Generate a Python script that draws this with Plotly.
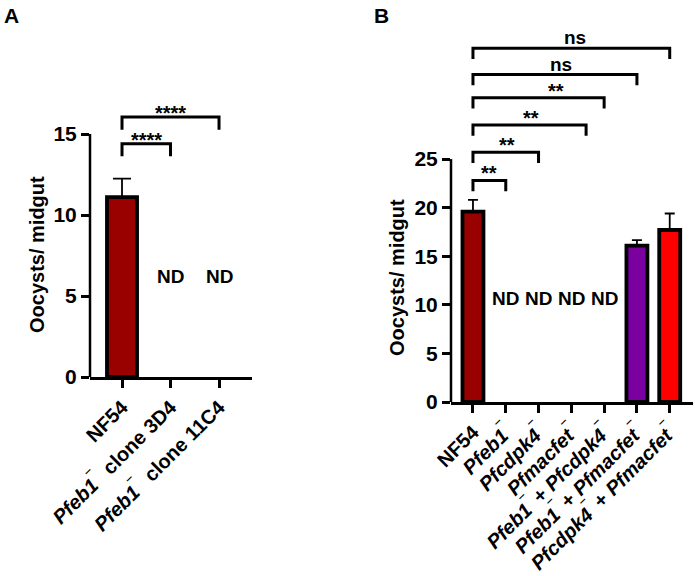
import plotly.graph_objects as go

# ---------------- data ----------------
a_categories = ["NF54", "<i>Pfeb1</i><sup>‾</sup>  clone 3D4", "<i>Pfeb1</i><sup>‾</sup>  clone 11C4"]
a_values = [11.1, 0, 0]
a_errors = [1.15, 0, 0]
a_colors = ["#990000", "#990000", "#990000"]
a_nd = [1, 2]
a_nd_y = 6.2
a_brackets_end = [1, 2]
a_brackets_y = [14.4, 16.05]
a_brackets_label = ["****", "****"]
a_label_x = [0.5, 1.0]

b_categories = [
    "NF54",
    "<i>Pfeb1</i><sup>‾</sup>",
    "<i>Pfcdpk4</i><sup>‾</sup>",
    "<i>Pfmacfet</i><sup>‾</sup>",
    "<i>Pfeb1</i><sup>‾</sup> + <i>Pfcdpk4</i><sup>‾</sup>",
    "<i>Pfeb1</i><sup>‾</sup> + <i>Pfmacfet</i><sup>‾</sup>",
    "<i>Pfcdpk4</i><sup>‾</sup> + <i>Pfmacfet</i><sup>‾</sup>",
]
b_values = [19.6, 0, 0, 0, 0, 16.1, 17.7]
b_errors = [1.2, 0, 0, 0, 0, 0.55, 1.7]
b_colors = ["#990000", "#990000", "#990000", "#990000", "#990000", "#7A00A0", "#FF0000"]
b_nd = [1, 2, 3, 4]
b_nd_y = 10.7
b_brackets_end = [1, 2, 3.45, 4, 5, 6]
b_brackets_y = [22.8, 25.7, 28.5, 31.3, 33.7, 36.4]
b_brackets_label = ["**", "**", "**", "**", "ns", "ns"]
b_label_x = [0.49, 1.04, 1.77, 2.53, 2.68, 3.11]

FONT = "Liberation Sans, Arial, sans-serif"

def bold(size):
    return dict(family=FONT, size=size, color="black", weight="bold")

def err(vals):
    return [e if e > 0 else None for e in vals]

fig = go.Figure()

fig.add_trace(go.Bar(
    x=list(range(len(a_categories))), y=[v if v > 0 else None for v in a_values], width=0.62,
    marker=dict(color=a_colors, line=dict(color="black", width=3.8)),
    error_y=dict(type="data", array=err(a_errors), arrayminus=[0]*3, symmetric=False,
                 color="black", thickness=1.8, width=9),
    xaxis="x", yaxis="y", showlegend=False, hoverinfo="skip"))

fig.add_trace(go.Bar(
    x=list(range(len(b_categories))), y=[v if v > 0 else None for v in b_values], width=0.64,
    marker=dict(color=b_colors, line=dict(color="black", width=3.8)),
    error_y=dict(type="data", array=err(b_errors), arrayminus=[0]*7, symmetric=False,
                 color="black", thickness=1.8, width=5),
    xaxis="x2", yaxis="y2", showlegend=False, hoverinfo="skip"))

common_x = dict(tickangle=-45, showline=True, linecolor="black", linewidth=2.5,
                ticks="outside", ticklen=8, tickwidth=2.5, tickcolor="black",
                tickfont=bold(20), showgrid=False, zeroline=False, automargin=False)
common_y = dict(showline=False, ticks="outside", ticklen=8, tickwidth=2.5, tickcolor="black",
                tickfont=bold(21), showgrid=False, zeroline=False, automargin=False)

fig.update_layout(
    width=695, height=576,
    margin=dict(l=0, r=0, t=0, b=0, autoexpand=False),
    plot_bgcolor="white", paper_bgcolor="white",
    xaxis=dict(domain=[90/695, 252/695], range=[-0.66, 2.68],
               tickvals=list(range(3)), ticktext=a_categories, **common_x),
    yaxis=dict(domain=[(576-377)/576, (576-100)/576], range=[0, 17.1],
               tickvals=[0, 5, 10, 15], **common_y),
    xaxis2=dict(domain=[451/695, 693/695], range=[-0.67, 6.71],
                tickvals=list(range(7)), ticktext=b_categories, anchor="y2", **common_x),
    yaxis2=dict(domain=[(576-402)/576, (576-25)/576], range=[0, 38.8],
                tickvals=[0, 5, 10, 15, 20, 25], anchor="x2", **common_y),
)

shapes = []
annotations = []

shapes.append(dict(type="line", xref="x domain", yref="y", x0=0, x1=0, y0=0, y1=15,
                   line=dict(color="black", width=2.5)))
shapes.append(dict(type="line", xref="x2 domain", yref="y2", x0=0, x1=0, y0=0, y1=25,
                   line=dict(color="black", width=2.5)))

def add_brackets(xr, yr, ends, ys, labels, lx, leg, star_shift):
    for e, yv, lab, x in zip(ends, ys, labels, lx):
        shapes.append(dict(type="path", xref=xr, yref=yr,
                           path=f"M 0,{yv-leg} L 0,{yv} L {e},{yv} L {e},{yv-leg}",
                           line=dict(color="black", width=3)))
        annotations.append(dict(x=x, y=yv, xref=xr, yref=yr, text=lab, showarrow=False,
                                yanchor="bottom", yshift=(-2 if lab == "ns" else star_shift),
                                font=bold(19 if lab == "ns" else 20)))

add_brackets("x", "y", a_brackets_end, a_brackets_y, a_brackets_label, a_label_x, 0.78, -9)
add_brackets("x2", "y2", b_brackets_end, b_brackets_y, b_brackets_label, b_label_x, 1.1, -6)

for c in a_nd:
    annotations.append(dict(x=c, y=a_nd_y, xref="x", yref="y", text="ND", showarrow=False, font=bold(19)))
for c in b_nd:
    annotations.append(dict(x=c, y=b_nd_y, xref="x2", yref="y2", text="ND", showarrow=False, font=bold(19)))

annotations.append(dict(x=37/695, y=(576-255)/576, xref="paper", yref="paper",
                        xanchor="center", yanchor="middle",
                        text="Oocysts/ midgut", textangle=-90, showarrow=False, font=bold(20)))
annotations.append(dict(x=397/695, y=(576-278)/576, xref="paper", yref="paper",
                        xanchor="center", yanchor="middle",
                        text="Oocysts/ midgut", textangle=-90, showarrow=False, font=bold(20)))

annotations.append(dict(x=2/695, y=1-2/576, xref="paper", yref="paper", text="A",
                        xanchor="left", yanchor="top", showarrow=False, font=bold(21)))
annotations.append(dict(x=372/695, y=1-2/576, xref="paper", yref="paper", text="B",
                        xanchor="left", yanchor="top", showarrow=False, font=bold(21)))

fig.update_layout(shapes=shapes, annotations=annotations)
fig.write_html("out.html", post_script="document.body.style.margin='0px';",
               config={"displayModeBar": False})
